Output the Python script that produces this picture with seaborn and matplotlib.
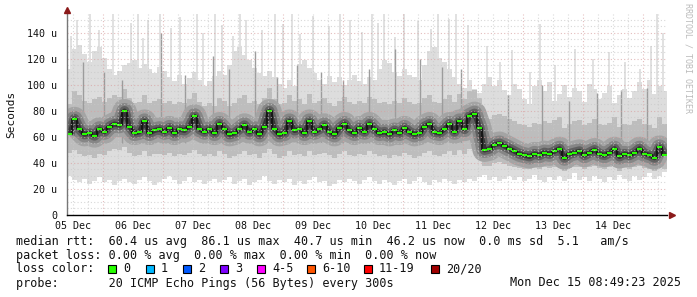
import numpy as np
import pandas as pd
import matplotlib
matplotlib.use("Agg")
import matplotlib.pyplot as plt
from matplotlib.patches import Rectangle
import seaborn as sns

# ---------------- data (hours since window start, 2 h per sample) ----------------
day_labels = ["05 Dec", "06 Dec", "07 Dec", "08 Dec", "09 Dec",
              "10 Dec", "11 Dec", "12 Dec", "13 Dec", "14 Dec"]
y_ticks = [0, 20, 40, 60, 80, 100, 120, 140]
y_tick_labels = ["0", "20 u", "40 u", "60 u", "80 u", "100 u", "120 u", "140 u"]

median = [62,74,66,62,63,61,66,64,68,70,69,80,68,63,64,72,63,65,66,64,67,63,66,65,68,76,66,64,66,63,
          70,66,62,63,66,69,64,66,62,68,80,66,62,63,72,65,66,63,72,64,66,69,64,62,67,70,65,63,67,64,
          70,66,63,64,62,65,63,67,64,62,63,68,70,64,63,66,70,64,72,66,76,78,67,50,51,54,55,53,51,49,
          47,46,45,47,46,48,47,49,51,44,47,48,49,46,48,50,47,46,48,51,45,47,46,48,51,47,46,44,52,46]
top = [112,128,131,124,118,126,129,121,112,108,111,115,117,119,113,116,112,109,114,111,106,103,108,101,105,110,104,99,103,107,
       111,108,115,126,129,123,119,113,109,107,111,106,101,98,104,99,116,119,113,109,104,101,107,102,106,100,104,108,103,101,
       106,104,112,119,117,110,107,112,108,106,104,115,126,129,121,118,112,106,101,98,104,97,94,101,106,99,104,96,92,101,
       97,89,85,99,104,95,102,88,93,100,91,98,95,87,101,97,89,94,99,86,92,97,90,95,102,97,104,93,99,95]
hi = [85,95,92,88,86,89,91,87,90,92,91,97,90,86,87,92,86,88,89,86,88,85,87,86,89,94,87,84,86,84,
      90,88,84,86,90,92,86,88,85,90,98,89,85,86,92,88,89,85,93,86,88,90,86,84,88,91,87,85,88,86,
      91,89,86,87,85,88,86,90,87,85,86,90,92,87,86,89,92,87,93,89,95,96,90,75,74,77,78,76,74,72,
      70,69,68,71,70,72,71,73,75,67,70,72,73,69,71,74,70,69,71,75,68,70,69,72,74,70,69,67,75,70]
lo = [48,50,47,45,46,44,47,46,49,51,50,52,48,45,46,49,45,47,47,46,48,45,47,46,48,50,47,45,47,45,
      49,47,44,45,47,49,46,47,44,48,51,47,44,45,49,46,47,45,49,46,47,48,46,44,47,49,46,45,47,46,
      49,47,45,46,44,46,45,48,46,44,45,48,49,46,45,47,49,46,50,47,51,52,48,38,38,40,41,39,38,37,
      36,35,35,36,35,37,36,37,38,34,36,37,37,35,37,38,36,35,37,38,34,36,35,37,38,36,35,34,38,35]
bottom = [30,27,25,28,24,26,29,25,27,23,26,28,25,24,27,29,26,23,25,28,30,27,24,26,29,25,27,24,26,28,
          25,27,29,24,26,28,23,25,27,30,26,24,27,25,28,23,26,24,27,29,25,26,22,24,27,25,28,26,24,27,
          29,26,24,27,25,23,26,28,24,26,29,25,23,27,25,28,26,24,27,25,28,26,29,31,27,29,26,28,30,27,
          29,26,28,31,27,25,29,27,30,26,28,32,27,29,26,30,28,25,29,27,31,28,26,30,27,29,32,28,30,33]

spike_t = [1.6,4,9.2,12.8,18.4,25.6,28.4,30.4,32.4,37.2,41.6,45.2,52,54.4,59.2,62,66.4,69.2,71.6,78,
           83.2,86.4,90,93.2,98.4,104.8,109.2,113.2,118,122,124.4,126.8,131.2,134.8,140.4,145.6,148.4,152.8,155.6,160.4,
           168,173.2,178,185.2,189.2,195.2,203.2,210.4,216.8,223.2,229.2,233.6,236,238.4]
spike_v = [138,150,155,142,155,148,155,136,150,155,144,152,155,140,155,146,138,155,150,142,
           155,147,155,139,153,145,155,150,141,155,148,155,137,155,149,143,155,151,155,146,
           130,118,127,110,147,115,128,120,125,118,112,130,155,140]
dspike_t = [6.4, 14.8, 22.0, 37.6, 47.2, 58.4, 64.8, 75.2, 84.0, 92.0, 101.6, 110.4,
            120.8, 131.2, 141.2, 150.0, 157.6, 176.4, 190.0, 200.8, 212.0, 221.6, 232.0]
dspike_v = [118, 110, 104, 140, 108, 122, 112, 126, 106, 115, 110, 104,
            112, 128, 120, 114, 112, 92, 100, 88, 94, 96, 98]

loss_labels = ["0", "1", "2", "3", "4-5", "6-10", "11-19", "20/20"]
loss_colors = ["#26ff00", "#00b8ff", "#0059ff", "#7e00ff", "#ff00ff", "#ff5500", "#ff0000", "#a00000"]

# ---------------- figure ----------------
sns.set_style("white")
plt.rcParams["font.family"] = ["DejaVu Sans Mono", "DejaVu Sans"]

W, H = 697, 297
fig = plt.figure(figsize=(W / 100, H / 100), dpi=100)
fig.patch.set_facecolor("white")
ax = fig.add_axes([67 / W, (H - 215) / H, 600 / W, 201 / H])
ax.set_facecolor("white")

n = len(median)
t = np.arange(n) * 2.0
te = np.append(t, t[-1] + 2.0)
tc = t + 1.0
ext = lambda a: np.append(np.asarray(a, float), a[-1])

# smoke
ax.vlines(spike_t, 40, spike_v, color="#d9d9d9", lw=1.1, zorder=1.5)
ax.fill_between(te, ext(bottom), ext(top), step="post", color="#dddddd", lw=0, zorder=2)
ax.fill_between(te, ext(lo), ext(hi), step="post", color="#bdbdbd", lw=0, zorder=3)
ax.vlines(dspike_t, 55, dspike_v, color="#9c9c9c", lw=1.0, zorder=3.5)
for lw_px, col in [(24, "#a4a4a4"), (16, "#868686"), (10, "#606060"), (5, "#353535")]:
    ax.plot(tc, median, color=col, lw=lw_px * 0.72,
            solid_capstyle="butt", solid_joinstyle="round", zorder=4)

df = pd.DataFrame({"t": te, "rtt": ext(median)})
sns.lineplot(data=df, x="t", y="rtt", ax=ax, color="#111111", lw=1.2,
             drawstyle="steps-post", zorder=5)
ax.hlines(median, t, t + 2.0, color="#26ff00", lw=1.5, zorder=6)

# grid
for yv in np.arange(5, 155, 5):
    major = yv % 20 == 0
    ax.axhline(yv, color="#d9a0a0" if major else "#c8c8c8", lw=0.8,
               ls=(0, (1, 2)), alpha=0.7, zorder=7)
for k in range(41):
    xv = 2.4 + 6 * k
    if xv > 240:
        break
    major = abs((xv - 14.4) % 24) < 1e-6
    ax.axvline(xv, color="#d9a0a0" if major else "#c8c8c8", lw=0.8,
               ls=(0, (1, 2)), alpha=0.7, zorder=7)

ax.set_xlim(0, 240)
ax.set_ylim(0, 154.6)
ax.set_xlabel("")
ax.set_ylabel("")

ax.set_xticks([2.4 + 24 * k for k in range(10)])
ax.set_xticklabels(day_labels, fontsize=7.2, color="#111111")
ax.set_xticks([2.4 + 6 * k for k in range(40)], minor=True)
ax.tick_params(axis="x", which="major", length=0, pad=4)
ax.tick_params(axis="x", which="minor", length=2.5, width=0.8, color="#555555", direction="out")
ax.set_yticks(y_ticks)
ax.set_yticklabels(y_tick_labels, fontsize=7.2, color="#111111")
ax.tick_params(axis="y", which="major", length=2, width=0.8, color="#888888", pad=5)

for s in ["top", "right"]:
    ax.spines[s].set_visible(False)
ax.spines["left"].set_color("#777777")
ax.spines["left"].set_linewidth(1.0)
ax.spines["left"].set_zorder(8)
ax.spines["bottom"].set_color("#000000")
ax.spines["bottom"].set_linewidth(1.0)
ax.spines["bottom"].set_zorder(8)

ax.plot([0], [1.018], marker="^", ms=4.5, color="#8b1a1a", transform=ax.transAxes, clip_on=False, zorder=9)
ax.plot([1.008], [0], marker=">", ms=4.5, color="#8b1a1a", transform=ax.transAxes, clip_on=False, zorder=9)

# labels outside plot
def fy(py):
    return 1 - py / H

fig.text(11 / W, fy(114), "Seconds", rotation=90, ha="center", va="center", fontsize=8, color="#111111")
fig.text(688 / W, fy(3), "RRDTOOL / TOBI OETIKER", rotation=270, ha="center", va="top",
         fontsize=6, color="#bbbbbb")

fs = 8.5
fig.text(16 / W, fy(241), "median rtt:  60.4 us avg  86.1 us max  40.7 us min  46.2 us now  0.0 ms sd  5.1   am/s",
         ha="left", va="center", fontsize=fs, color="#111111")
fig.text(16 / W, fy(255), "packet loss: 0.00 % avg  0.00 % max  0.00 % min  0.00 % now",
         ha="left", va="center", fontsize=fs, color="#111111")
fig.text(16 / W, fy(269), "loss color:", ha="left", va="center", fontsize=fs, color="#111111")
sq_x = [108, 146, 183, 220, 257, 307, 364, 431]
for xx, lab, col in zip(sq_x, loss_labels, loss_colors):
    fig.patches.append(Rectangle((xx / W, fy(273)), 8 / W, 8 / H, transform=fig.transFigure,
                                 facecolor=col, edgecolor="black", lw=0.8))
    fig.text((xx + 15) / W, fy(269), lab, ha="left", va="center", fontsize=fs, color="#111111")
fig.text(16 / W, fy(283), "probe:       20 ICMP Echo Pings (56 Bytes) every 300s",
         ha="left", va="center", fontsize=fs, color="#111111")
fig.text(681 / W, fy(283), "Mon Dec 15 08:49:23 2025", ha="right", va="center", fontsize=fs, color="#111111")

fig.savefig("out.png", dpi=100, facecolor="white")
